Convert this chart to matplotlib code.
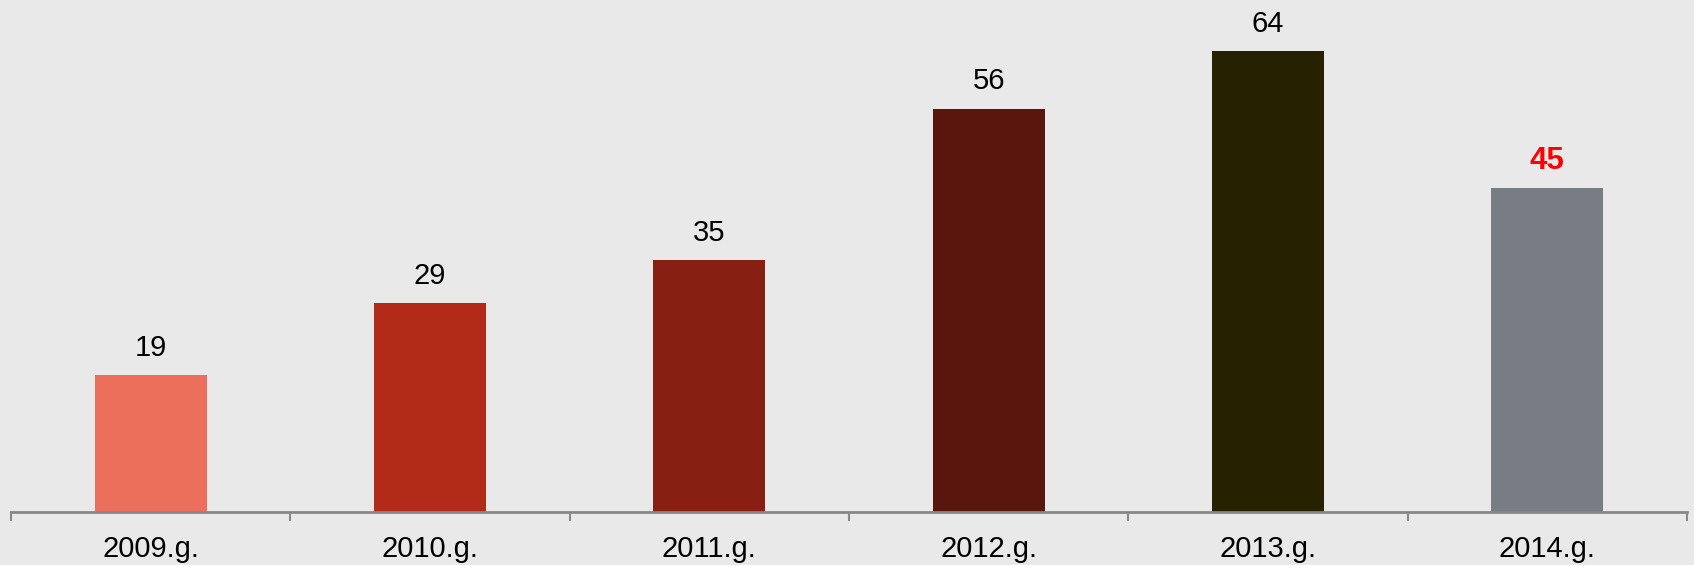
import matplotlib.pyplot as plt

years = ['2009.g.', '2010.g.', '2011.g.', '2012.g.', '2013.g.', '2014.g.']
values = [19, 29, 35, 56, 64, 45]
colors = ['#EC6F5C', '#B22B18', '#872012', '#5A150C', '#262200', '#787C84']
label_colors = ['black', 'black', 'black', 'black', 'black', '#FF0000']
label_weights = ['normal', 'normal', 'normal', 'normal', 'normal', 'bold']
label_sizes = [21, 21, 21, 21, 21, 22.5]

plt.rcParams['font.family'] = ['Liberation Sans', 'DejaVu Sans']
bg = '#E9E9E9'

fig = plt.figure(figsize=(16.94, 5.65), dpi=100, facecolor=bg)
ax = fig.add_axes([11 / 1694, 53.3 / 565, 1676 / 1694, 0.8995])
ax.set_facecolor(bg)

x = range(len(years))
bars = ax.bar(x, values, width=0.4, color=colors)

for b, v, c, w, fs in zip(bars, values, label_colors, label_weights, label_sizes):
    ax.annotate(str(v), (b.get_x() + b.get_width() / 2, v),
                xytext=(0, 19.5), textcoords='offset points',
                ha='center', va='center', fontsize=fs, color=c, fontweight=w)

ax.set_xlim(-0.5, len(years) - 0.5)
ax.set_ylim(0, 70.6)
ax.set_yticks([])
ax.set_xticks([i - 0.5 for i in range(len(years) + 1)])
ax.set_xticklabels([])
ax.set_xticks(list(x), minor=True)
ax.set_xticklabels(years, minor=True, fontsize=21)
ax.tick_params(axis='x', which='major', direction='out', length=6.5, width=1.5, color='#888888')
ax.tick_params(axis='x', which='minor', length=0, pad=17)

for s in ['top', 'right', 'left']:
    ax.spines[s].set_visible(False)
ax.spines['bottom'].set_color('#888888')
ax.spines['bottom'].set_linewidth(2)

fig.savefig('out.png', dpi=100, facecolor=bg)
